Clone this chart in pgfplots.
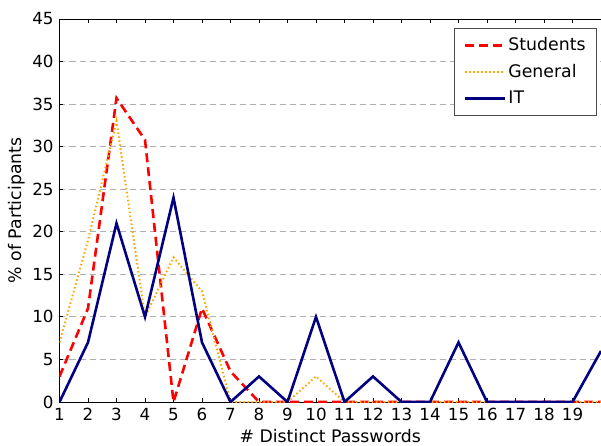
\documentclass[border=0pt]{standalone}
\usepackage{fontspec}
\setmainfont{DejaVu Sans}
\usepackage{pgfplots}
\pgfplotsset{compat=1.18}
\definecolor{mporange}{HTML}{FFA500}
\definecolor{mpnavy}{HTML}{000080}
\definecolor{gridgray}{HTML}{B0B0B0}
\begin{document}
\fontsize{17.3}{20.8}\selectfont
\begin{tikzpicture}
\useasboundingbox (-59.5pt,-43pt) rectangle (541.5pt,402pt);
\begin{axis}[
  scale only axis,
  width=541.5pt, height=383pt,
  xmin=1, xmax=20, ymin=0, ymax=45,
  xtick={1,2,...,19},
  ytick={0,5,...,45},
  axis x line*=box, axis y line*=left,
  x axis line style={-}, y axis line style={-},
  xtick pos=both, ytick pos=left,
  tick align=inside,
  major tick length=4pt,
  tick style={black, line width=0.8pt},
  axis line style={black, line width=0.9pt},
  /pgf/number format/assume math mode=true,
  tick label style={font=\fontsize{16.7}{20}\selectfont},
  ymajorgrids,
  grid style={gridgray, line width=0.9pt, dash pattern=on 6pt off 4pt},
  xlabel={\# Distinct Passwords},
  ylabel={\% of Participants},
  every axis x label/.style={at={(axis description cs:0.5,-0.1055)}, anchor=base},
  every axis y label/.style={at={(axis description cs:-0.0702,0.5)}, rotate=90, anchor=base},
  legend style={at={(axis description cs:0.9926,0.9765)}, anchor=north east,
    draw=black!70, line width=0.9pt, inner xsep=9pt, inner ysep=7pt, row sep=7pt},
  legend cell align=left,
  legend image code/.code={\draw[#1] (0pt,0pt) -- (27pt,0pt); \path (0pt,0pt) -- (40pt,0pt);},
]
\addplot[red, line width=2.6pt, dash pattern=on 9pt off 5pt] coordinates {
(1,3) (2,11) (3,35.7) (4,30.8) (5,0) (6,11) (7,3.6) (8,0) (9,0) (10,0)
(11,0) (12,0) (13,0) (14,0) (15,0) (16,0) (17,0) (18,0) (19,0) (20,0)};
\addlegendentry{Students}
\addplot[mporange, line width=2pt, dash pattern=on 1.5pt off 2.5pt] coordinates {
(1,7) (2,19) (3,33) (4,10) (5,17) (6,13) (7,0) (8,0) (9,0) (10,3)
(11,0) (12,0) (13,0) (14,0) (15,0) (16,0) (17,0) (18,0) (19,0) (20,0)};
\addlegendentry{General}
\addplot[mpnavy, line width=2.6pt] coordinates {
(1,0) (2,7) (3,21) (4,10) (5,24) (6,7) (7,0) (8,3) (9,0) (10,10)
(11,0) (12,3) (13,0) (14,0) (15,7) (16,0) (17,0) (18,0) (19,0) (20,6)};
\addlegendentry{IT}
\end{axis}
\end{tikzpicture}
\end{document}
